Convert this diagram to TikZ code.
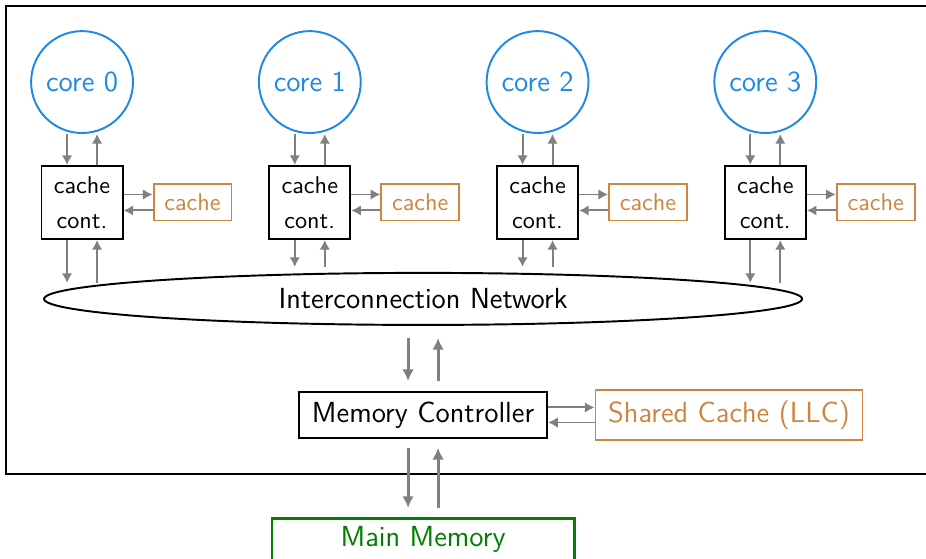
\documentclass[tikz,border=0pt]{standalone}
\usepackage{tikz}
\usetikzlibrary{positioning, calc, shapes.geometric}
\usetikzlibrary{arrows.meta}
\renewcommand{\familydefault}{\sfdefault}
\definecolor{coreblue}{RGB}{30,136,229}
\definecolor{cacheorange}{RGB}{205,133,63}
\definecolor{memgreen}{RGB}{0,128,0}
\tikzstyle{corebox}=[circle,thick,draw=coreblue,text=coreblue,
minimum size=42.1pt,font=\large]
\tikzstyle{ctrlbox}=[rectangle,thick,draw=black,minimum width=33.5pt,
minimum height=30.2pt,align=center,inner sep=1pt]
\tikzstyle{cachebox}=[rectangle,thick,draw=cacheorange,text=cacheorange,
minimum width=32.2pt,minimum height=14.9pt,inner sep=1pt]
\tikzstyle{netbox}=[ellipse,thick,draw=black,minimum width=313.2pt,
minimum height=21.5pt,inner sep=1pt,font=\large]
\tikzstyle{membox}=[rectangle,thick,draw=black,minimum width=102.5pt,
minimum height=19pt,inner sep=1pt,font=\large]
\tikzstyle{llcbox}=[rectangle,thick,draw=cacheorange,text=cacheorange,
minimum width=110.3pt,minimum height=20.7pt,inner sep=1pt,font=\large]
\tikzstyle{mainbox}=[rectangle,very thick,draw=memgreen,text=memgreen,
minimum width=124.8pt,minimum height=17.8pt,inner sep=1pt,font=\large]
\tikzstyle{edgepath} = [-{Latex[length=4pt,width=4.4pt]},thick,color=gray]
\tikzstyle{busedge} = [-{Latex[length=4.8pt,width=4.8pt]},very thick,color=gray]

\begin{document}
\begin{tikzpicture}[x=1pt,y=1pt]
    \useasboundingbox (0,0) rectangle (382.6,-230.6);
    \clip (0,0) rectangle (382.6,-230.6);
    \draw[semithick] (2.5,-2.5) rectangle (400,-195.9);

    % cores
    \node[corebox] (core0) at (33.9,-33.9) {core 0};
    \node[corebox, right=51.2pt of core0] (core1) {core 1};
    \node[corebox, right=51.2pt of core1] (core2) {core 2};
    \node[corebox, right=51.2pt of core2] (core3) {core 3};

    % private caches
    \node[ctrlbox, below=12.8pt of core0] (cc0) {cache\\[2.5pt]cont.};
    \node[ctrlbox, below=12.8pt of core1] (cc1) {cache\\[2.5pt]cont.};
    \node[ctrlbox, below=12.8pt of core2] (cc2) {cache\\[2.5pt]cont.};
    \node[ctrlbox, below=12.8pt of core3] (cc3) {cache\\[2.5pt]cont.};
    \node[cachebox, right=12pt of cc0] (cache0) {cache};
    \node[cachebox, right=12pt of cc1] (cache1) {cache};
    \node[cachebox, right=12pt of cc2] (cache2) {cache};
    \node[cachebox, right=12pt of cc3] (cache3) {cache};

    % shared part
    \node[netbox] (net) at (174.8,-123.5) {Interconnection Network};
    \node[membox, below=26.9pt of net] (mc) {Memory Controller};
    \node[llcbox, right=19.2pt of mc] (llc) {Shared Cache (LLC)};
    \node[mainbox, below=32.2pt of mc] (mm) {Main Memory};

    \coordinate (lo) at (0,-116.9);
    \coordinate (hi) at (0,-110.3);

    \path[edgepath]
        ([xshift=-6.2pt]core0.south) edge ([xshift=-6.2pt]cc0.north)
        ([xshift=6.2pt]cc0.north) edge ([xshift=6.2pt]core0.south)
        ([xshift=-6.2pt]core1.south) edge ([xshift=-6.2pt]cc1.north)
        ([xshift=6.2pt]cc1.north) edge ([xshift=6.2pt]core1.south)
        ([xshift=-6.2pt]core2.south) edge ([xshift=-6.2pt]cc2.north)
        ([xshift=6.2pt]cc2.north) edge ([xshift=6.2pt]core2.south)
        ([xshift=-6.2pt]core3.south) edge ([xshift=-6.2pt]cc3.north)
        ([xshift=6.2pt]cc3.north) edge ([xshift=6.2pt]core3.south);

    \path[edgepath]
        ([yshift=3.3pt]cc0.east) edge ([yshift=3.3pt]cache0.west)
        ([yshift=-3.3pt]cache0.west) edge ([yshift=-3.3pt]cc0.east)
        ([yshift=3.3pt]cc1.east) edge ([yshift=3.3pt]cache1.west)
        ([yshift=-3.3pt]cache1.west) edge ([yshift=-3.3pt]cc1.east)
        ([yshift=3.3pt]cc2.east) edge ([yshift=3.3pt]cache2.west)
        ([yshift=-3.3pt]cache2.west) edge ([yshift=-3.3pt]cc2.east)
        ([yshift=3.3pt]cc3.east) edge ([yshift=3.3pt]cache3.west)
        ([yshift=-3.3pt]cache3.west) edge ([yshift=-3.3pt]cc3.east);

    \path[edgepath]
        ([xshift=-6.2pt]cc0.south) edge ([xshift=-6.2pt]cc0.south |- lo)
        ([xshift=6.2pt]cc0.south |- lo) edge ([xshift=6.2pt]cc0.south)
        ([xshift=-6.2pt]cc1.south) edge ([xshift=-6.2pt]cc1.south |- hi)
        ([xshift=6.2pt]cc1.south |- hi) edge ([xshift=6.2pt]cc1.south)
        ([xshift=-6.2pt]cc2.south) edge ([xshift=-6.2pt]cc2.south |- hi)
        ([xshift=6.2pt]cc2.south |- hi) edge ([xshift=6.2pt]cc2.south)
        ([xshift=-6.2pt]cc3.south) edge ([xshift=-6.2pt]cc3.south |- lo)
        ([xshift=6.2pt]cc3.south |- lo) edge ([xshift=6.2pt]cc3.south);

    \path[edgepath]
        ([yshift=3.1pt]mc.east) edge ([yshift=3.1pt]llc.west)
        ([yshift=-3.1pt]llc.west) edge ([yshift=-3.1pt]mc.east);

    \path[busedge]
        ([xshift=-6.2pt]net.south) edge[shorten <=5pt, shorten >=4.1pt] ([xshift=-6.2pt]mc.north)
        ([xshift=6.2pt]mc.north) edge[shorten <=4.1pt, shorten >=5pt] ([xshift=6.2pt]net.south)
        ([xshift=-6.2pt]mc.south) edge[shorten <=3.7pt, shorten >=3.7pt] ([xshift=-6.2pt]mm.north)
        ([xshift=6.2pt]mm.north) edge[shorten <=3.7pt, shorten >=3.7pt] ([xshift=6.2pt]mc.south);
\end{tikzpicture}
\end{document}
